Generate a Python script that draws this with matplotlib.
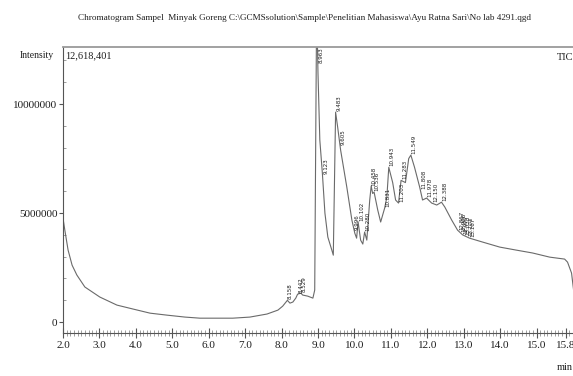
import numpy as np
import matplotlib
matplotlib.use("Agg")
import matplotlib.pyplot as plt
from matplotlib.ticker import FixedLocator, MultipleLocator

# retention time (min) and intensity (counts)
rt = [2.00, 2.05, 2.14, 2.25, 2.38, 2.60, 3.01, 3.48, 3.92, 4.39, 4.85, 5.35,
      5.76, 6.17, 6.66, 7.13, 7.60, 7.90, 8.03, 8.16, 8.23, 8.31, 8.39, 8.44,
      8.53, 8.58, 8.72, 8.86, 8.91, 8.94, 8.963, 9.00, 9.05, 9.12, 9.19, 9.27,
      9.38, 9.42, 9.483, 9.54, 9.62, 9.79, 9.93, 10.01, 10.06, 10.10, 10.17,
      10.23, 10.28, 10.34, 10.42, 10.46, 10.50, 10.54, 10.64, 10.72, 10.83,
      10.89, 10.943, 11.05, 11.13, 11.21, 11.28, 11.40, 11.49, 11.549, 11.65,
      11.79, 11.87, 11.98, 12.12, 12.26, 12.39, 12.48, 12.67, 12.83, 12.97,
      13.16, 13.52, 13.99, 14.45, 14.89, 15.36, 15.77, 15.85, 15.96, 16.05]
intensity = [4.77, 4.22, 3.30, 2.61, 2.16, 1.61, 1.15, 0.78, 0.60, 0.41, 0.32,
             0.23, 0.18, 0.18, 0.18, 0.23, 0.37, 0.55, 0.73, 1.00, 0.87, 0.92,
             1.10, 1.28, 1.33, 1.24, 1.19, 1.10, 1.47, 9.0, 14.5, 11.4, 8.35,
             6.83, 5.00, 3.90, 3.30, 3.07, 9.63, 8.94, 7.90, 6.20, 4.68, 4.08,
             3.85, 4.60, 3.76, 3.58, 4.13, 3.76, 5.60, 6.24, 5.90, 5.96, 5.14,
             4.59, 5.23, 5.73, 7.10, 6.40, 5.60, 5.46, 6.50, 6.40, 7.50, 7.66,
             7.10, 6.20, 5.60, 5.69, 5.46, 5.37, 5.50, 5.28, 4.68, 4.22, 4.00,
             3.85, 3.67, 3.44, 3.30, 3.17, 2.98, 2.89, 2.75, 2.25, 1.00]
intensity = [v * 1e6 for v in intensity]

peak_rt = [8.158, 8.442, 8.529, 8.963, 9.123, 9.483, 9.605, 9.996, 10.102,
           10.280, 10.458, 10.536, 10.831, 10.943, 11.203, 11.283, 11.549,
           11.808, 11.978, 12.150, 12.388, 12.867, 12.928, 12.977, 13.038,
           13.103, 13.167]

x_ticks = [2.0, 3.0, 4.0, 5.0, 6.0, 7.0, 8.0, 9.0, 10.0, 11.0, 12.0, 13.0,
           14.0, 15.0, 15.8]
y_ticks = [0, 5000000, 10000000]
y_top = 12618401

title = ("Chromatogram Sampel  Minyak Goreng C:\\GCMSsolution\\Sample\\"
         "Penelitian Mahasiswa\\Ayu Ratna Sari\\No lab 4291.qgd")

plt.rcParams['font.family'] = ['Liberation Serif', 'DejaVu Serif']
ink = "#1e1e1e"

fig = plt.figure(figsize=(5.73, 3.76), dpi=100)
ax = fig.add_axes([63 / 573, 1 - 333 / 376, 1 - 63 / 573, 286 / 376])

ax.plot(rt, intensity, color="#6a6a6a", lw=0.8)
ax.set_xlim(2.0, 16.0)
ax.set_ylim(-0.5e6, y_top)

# peak labels, rotated, sitting on the trace
for p in peak_rt:
    y = np.interp(p, rt, intensity)
    if y > y_top:
        ax.text(p + 0.06, y_top, "%.3f" % p, rotation=90, fontsize=4,
                ha="left", va="top", color=ink, family="DejaVu Sans")
    else:
        ax.text(p + 0.02, y + 0.05e6, "%.3f" % p, rotation=90, fontsize=4,
                ha="left", va="bottom", color=ink, family="DejaVu Sans")

ax.xaxis.set_major_locator(FixedLocator(x_ticks))
ax.set_xticklabels(["%.1f" % t for t in x_ticks])
ax.xaxis.set_minor_locator(MultipleLocator(0.1))
ax.yaxis.set_major_locator(FixedLocator(y_ticks))
ax.set_yticklabels([str(v) for v in y_ticks])
ax.yaxis.set_minor_locator(MultipleLocator(1e6))

ax.tick_params(axis="x", which="major", direction="inout", length=7,
               width=0.8, color="#555555", labelsize=8, labelcolor=ink, pad=2)
ax.tick_params(axis="x", which="minor", direction="inout", length=4,
               width=0.5, color="#777777")
ax.tick_params(axis="y", which="major", direction="out", length=3,
               width=0.8, color="#555555", labelsize=8, labelcolor=ink, pad=1)
ax.tick_params(axis="y", which="minor", direction="in", length=2,
               width=0.5, color="#777777")

for side in ["right"]:
    ax.spines[side].set_visible(False)
ax.spines["top"].set_color("#9a9a9a")
ax.spines["top"].set_linewidth(1.3)
ax.spines["left"].set_color("#555555")
ax.spines["left"].set_linewidth(0.8)
ax.spines["bottom"].set_color("#555555")
ax.spines["bottom"].set_linewidth(0.8)

ax.text(0.004, 0.985, "12,618,401", transform=ax.transAxes, fontsize=7.5,
        ha="left", va="top", color=ink)
fig.text(557 / 573, 1 - 58 / 376, "TIC", fontsize=7.5, ha="left",
         va="center", color=ink)
fig.text(20 / 573, 1 - 56 / 376, "Intensity", fontsize=7, ha="left",
         va="center", color=ink)
fig.text(305 / 573, 1 - 18 / 376, title, fontsize=6.6, ha="center",
         va="center", color=ink)
fig.text(565 / 573, 1 - 367 / 376, "min", fontsize=7.5, ha="center",
         va="center", color=ink)

fig.savefig("out.png", dpi=100)
